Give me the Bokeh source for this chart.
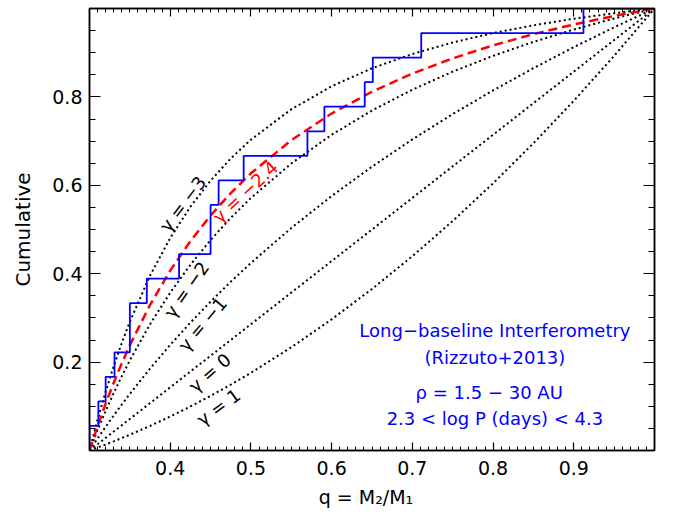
from bokeh.plotting import figure
from bokeh.models import (Range1d, LinearAxis, FixedTicker, PrintfTickFormatter,
                          CustomJSTickFormatter, ColumnDataSource)
from bokeh.core.properties import value
from bokeh.embed import file_html
from bokeh.resources import INLINE

# ---------------- data ----------------
q_grid = [0.30, 0.31, 0.32, 0.33, 0.34, 0.35, 0.375, 0.40, 0.425, 0.45, 0.475,
          0.50, 0.55, 0.60, 0.65, 0.70, 0.75, 0.80, 0.85, 0.90, 0.95, 1.00]

cdf_gm3 = [0.0, 0.0698, 0.1331, 0.1907, 0.2434, 0.2915, 0.3956, 0.4808, 0.5514, 0.6105, 0.6606,
           0.7033, 0.7719, 0.8242, 0.8648, 0.8971, 0.9231, 0.9444, 0.9620, 0.9768, 0.9893, 1.0]
cdf_gm24 = [0.0, 0.0551, 0.1061, 0.1534, 0.1973, 0.2383, 0.3293, 0.4070, 0.4737, 0.5317, 0.5824,
            0.6271, 0.7021, 0.7624, 0.8117, 0.8527, 0.8872, 0.9166, 0.9419, 0.9639, 0.9831, 1.0]
cdf_gm2 = [0.0, 0.0461, 0.0893, 0.1299, 0.1681, 0.2041, 0.2857, 0.3571, 0.4202, 0.4762, 0.5263,
           0.5714, 0.6494, 0.7143, 0.7692, 0.8163, 0.8571, 0.8929, 0.9244, 0.9524, 0.9774, 1.0]
cdf_gm1 = [0.0, 0.0272, 0.0536, 0.0792, 0.1040, 0.1280, 0.1853, 0.2389, 0.2893, 0.3368, 0.3817,
           0.4243, 0.5034, 0.5757, 0.6422, 0.7038, 0.7611, 0.8147, 0.8650, 0.9125, 0.9574, 1.0]
cdf_g0 = [0.0, 0.0143, 0.0286, 0.0429, 0.0571, 0.0714, 0.1071, 0.1429, 0.1786, 0.2143, 0.2500,
          0.2857, 0.3571, 0.4286, 0.5000, 0.5714, 0.6429, 0.7143, 0.7857, 0.8571, 0.9286, 1.0]
cdf_g1 = [0.0, 0.0067, 0.0136, 0.0208, 0.0281, 0.0357, 0.0556, 0.0769, 0.0996, 0.1236, 0.1490,
          0.1758, 0.2335, 0.2967, 0.3654, 0.4396, 0.5192, 0.6044, 0.6951, 0.7912, 0.8929, 1.0]

obs_q = [0.300, 0.311, 0.320, 0.331, 0.350, 0.371, 0.411, 0.450, 0.460, 0.491,
         0.570, 0.591, 0.641, 0.651, 0.711, 0.912]
obs_cdf = [0.0556, 0.1111, 0.1667, 0.2222, 0.3333, 0.3889, 0.4444, 0.5556, 0.6111, 0.6667,
           0.7222, 0.7778, 0.8333, 0.8889, 0.9444, 1.0]

x_major = [0.4, 0.5, 0.6, 0.7, 0.8, 0.9]
y_major = [0.2, 0.4, 0.6, 0.8]

gamma_labels = ["\u03b3 = \u22123", "\u03b3 = \u22122", "\u03b3 = \u22121", "\u03b3 = 0", "\u03b3 = 1"]
red_label = "\u03b3 = \u22122.4"
info_lines = ["Long\u2212baseline Interferometry", "(Rizzuto+2013)",
              "\u03c1  =  1.5 \u2212 30 AU", "2.3 < log P (days) < 4.3"]

# ---------------- figure ----------------
FONT = "DejaVu Sans"
p = figure(width=673, height=516, x_range=Range1d(0.3, 1.0), y_range=Range1d(0.0, 1.0),
           output_backend="svg", toolbar_location=None,
           min_border_left=89, min_border_right=19, min_border_top=8, min_border_bottom=66,
           background_fill_color="white", border_fill_color="white")
p.xgrid.visible = False
p.ygrid.visible = False
p.outline_line_color = "black"
p.outline_line_width = 1.5

x_minor = [round(0.3 + 0.01 * i, 2) for i in range(71)]
y_minor = [round(0.05 * i, 2) for i in range(21)]


def style(ax, major_in, minor_in, show_labels=True):
    ax.axis_line_color = "black"
    ax.axis_line_width = 1.5
    ax.major_tick_in = major_in
    ax.major_tick_out = 0
    ax.minor_tick_in = minor_in
    ax.minor_tick_out = 0
    ax.major_tick_line_color = "black"
    ax.minor_tick_line_color = "black"
    ax.major_tick_line_width = 1.2
    ax.minor_tick_line_width = 1.0
    ax.major_label_text_font = FONT
    ax.major_label_text_font_size = "19px"
    ax.major_label_text_color = "black"
    ax.axis_label_text_font = FONT
    ax.axis_label_text_font_size = "19px"
    ax.axis_label_text_font_style = "normal"
    ax.axis_label_text_color = "black"
    if not show_labels:
        ax.formatter = CustomJSTickFormatter(code="return '';")
        ax.major_label_standoff = 0


xa = p.xaxis[0]
xa.ticker = FixedTicker(ticks=x_major, minor_ticks=x_minor)
xa.formatter = PrintfTickFormatter(format="%.1f")
style(xa, 8, 4)
xa.major_label_standoff = 10
xa.axis_label = "q  =  M\u2082/M\u2081"
xa.axis_label_standoff = 8

ya = p.yaxis[0]
ya.ticker = FixedTicker(ticks=y_major, minor_ticks=y_minor)
ya.formatter = PrintfTickFormatter(format="%.1f")
style(ya, 11, 6)
ya.major_label_standoff = 7
ya.axis_label = "Cumulative"
ya.axis_label_text_font_size = "20px"
ya.axis_label_standoff = 14

top = LinearAxis(ticker=FixedTicker(ticks=x_major, minor_ticks=x_minor))
style(top, 8, 4, show_labels=False)
p.add_layout(top, "above")
right = LinearAxis(ticker=FixedTicker(ticks=y_major, minor_ticks=y_minor))
style(right, 11, 6, show_labels=False)
p.add_layout(right, "right")

# ---------------- model curves ----------------
for ys in [cdf_gm3, cdf_gm2, cdf_gm1, cdf_g0, cdf_g1]:
    p.line(q_grid, ys, line_color="black", line_width=2, line_dash="2 3", line_cap="butt")
p.line(q_grid, cdf_gm24, line_color="red", line_width=2.5, line_dash="9 5")

# ---------------- observed step ----------------
step_x = [0.3] + obs_q + [1.0]
step_y = [0.0] + obs_cdf + [1.0]
p.step(step_x, step_y, mode="after", line_color="blue", line_width=1.8)

# ---------------- curve labels ----------------
lab_src = ColumnDataSource(dict(
    x=[0.4155, 0.420, 0.440, 0.449, 0.460],
    y=[0.558, 0.364, 0.286, 0.176, 0.098],
    a=[0.925, 0.96, 0.87, 0.715, 0.63],
    t=gamma_labels))
p.text(x="x", y="y", text="t", angle="a", source=lab_src, text_font=value(FONT),
       text_font_size="18px", text_color="black", text_align="center", text_baseline="middle")

p.text(x=[0.493], y=[0.585], text=[red_label], angle=[0.75], text_font=value(FONT),
       text_font_size="18px", text_color="red", text_align="center", text_baseline="middle")

info_y = [0.2715, 0.2104, 0.1312, 0.0724]
p.text(x=[0.8023] * 4, y=info_y, text=info_lines, text_font=value(FONT),
       text_font_size="18px", text_color="blue", text_align="center", text_baseline="middle")

open("out.html", "w").write(file_html(p, INLINE))
